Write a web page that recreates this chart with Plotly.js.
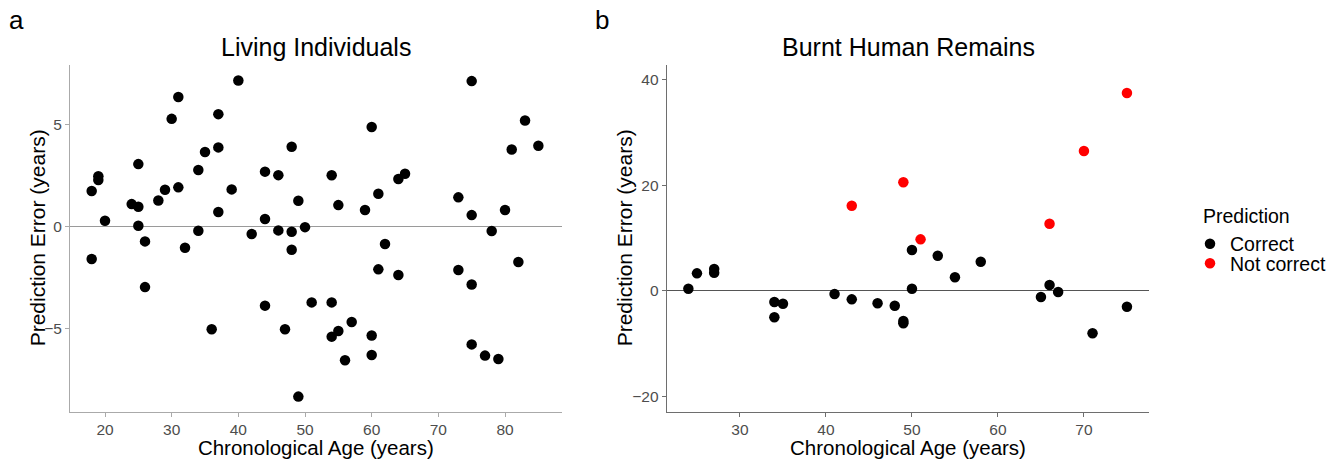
<!DOCTYPE html>
<html>
<head>
<meta charset="utf-8">
<script src="https://cdn.plot.ly/plotly-3.0.1.min.js"></script>
<style>
  html, body { margin: 0; padding: 0; background: #ffffff; }
  #chart { width: 1339px; height: 459px; }
</style>
</head>
<body>
<div id="chart"></div>
<script>
// Panel a: Living Individuals
const livingAge = [18,18,19,19,20,24,25,25,25,26,26,28,29,30,31,31,32,34,34,35,36,37,37,37,39,40,42,44,44,44,46,46,47,48,48,48,49,49,50,51,
  75,83,85,81,60,54,64,65,61,55,59,73,75,80,78,62,61,64,73,75,82,54,57,55,54,60,60,56,75,77,79];
const livingError = [1.75,-1.58,2.48,2.29,0.29,1.11,0.98,3.07,0.05,-0.72,-2.96,1.29,1.81,5.29,6.36,1.93,-1.03,2.78,-0.2,3.66,-5.03,5.52,3.89,0.72,1.83,7.17,-0.36,2.70,0.38,-3.87,2.53,-0.18,-5.03,3.92,-0.25,-1.13,1.27,-8.33,-0.02,-3.71,
  7.14,5.21,3.97,3.79,4.89,2.52,2.34,2.60,1.62,1.06,0.82,1.44,0.57,0.82,-0.21,-0.85,-2.09,-2.37,-2.12,-2.83,-1.73,-3.71,-4.67,-5.11,-5.39,-5.33,-6.29,-6.55,-5.77,-6.32,-6.49];

// Panel b: Burnt Human Remains
const burntCorrectAge = [24,25,27,27,34,34,35,41,43,46,48,49,49,50,50,53,55,58,65,66,67,71,75];
const burntCorrectError = [0.44,3.34,4.16,3.47,-2.08,-4.98,-2.40,-0.57,-1.58,-2.33,-2.78,-5.68,-6.12,7.76,0.44,6.69,2.59,5.55,-1.14,1.14,-0.19,-8.01,-2.97];
const burntWrongAge = [43,49,51,66,70,75];
const burntWrongError = [16.15,20.6,9.78,12.74,26.5,37.5];

const ticksA_x = [20,30,40,50,60,70,80];
const ticksA_y = [-5,0,5];
const ticksB_x = [30,40,50,60,70];
const ticksB_y = [-20,0,20,40];

const panelTitles = ["Living Individuals", "Burnt Human Remains"];
const panelLetters = ["a", "b"];
const legendTitle = "Prediction";
const legendLabels = ["Correct", "Not correct"];
const xLabel = "Chronological Age (years)";
const yLabel = "Prediction Error (years)";

const FONT = "Liberation Sans, Arial, Helvetica, sans-serif";
const W = 1339, H = 459;
const px = v => v / W;
const py = v => (H - v) / H;

const markerSize = 10.5;

const traces = [
  { x: livingAge, y: livingError, type: "scatter", mode: "markers",
    xaxis: "x", yaxis: "y", showlegend: false,
    marker: { color: "#000000", size: markerSize } },
  { x: burntCorrectAge, y: burntCorrectError, type: "scatter", mode: "markers",
    xaxis: "x2", yaxis: "y2", name: legendLabels[0], legend: "legend",
    marker: { color: "#000000", size: markerSize } },
  { x: burntWrongAge, y: burntWrongError, type: "scatter", mode: "markers",
    xaxis: "x2", yaxis: "y2", name: legendLabels[1], legend: "legend2",
    marker: { color: "#FF0000", size: markerSize } }
];

function axisCommon(lineColor) {
  return {
    showgrid: false, showline: true, linecolor: lineColor, linewidth: 1,
    ticks: "outside", ticklen: 4, tickwidth: 1, tickcolor: lineColor,
    tickfont: { family: FONT, size: 15.5, color: "#4D4D4D" },
    zeroline: false, fixedrange: true
  };
}

function legendAt(yCenter) {
  return {
    x: px(1190), xanchor: "left", y: py(yCenter), yanchor: "middle",
    font: { family: FONT, size: 19.5, color: "#000" },
    itemwidth: 30, bgcolor: "rgba(0,0,0,0)", borderwidth: 0
  };
}

const yDomain = [1 - 411.7 / H, 1 - 65 / H];
const yMid = (65 + 411.7) / 2;

const layout = {
  width: W, height: H,
  margin: { l: 0, r: 0, t: 0, b: 0 },
  paper_bgcolor: "#ffffff", plot_bgcolor: "#ffffff",
  font: { family: FONT, color: "#000000" },
  showlegend: true,
  legend: legendAt(244),
  legend2: legendAt(263.5),
  xaxis: Object.assign(axisCommon("#AAAAAA"), {
    domain: [px(70), px(561.7)], range: [14.75, 88.5], tickvals: ticksA_x,
    anchor: "y",
    title: { text: xLabel, font: { family: FONT, size: 20.5, color: "#000" }, standoff: 3 }
  }),
  yaxis: Object.assign(axisCommon("#AAAAAA"), {
    domain: yDomain, range: [-9.07, 7.93], tickvals: ticksA_y,
    anchor: "x",
    zeroline: true, zerolinecolor: "#9A9A9A", zerolinewidth: 1
  }),
  xaxis2: Object.assign(axisCommon("#6E6E6E"), {
    domain: [px(666.7), px(1149.3)], range: [21.48, 77.6], tickvals: ticksB_x,
    anchor: "y2",
    title: { text: xLabel, font: { family: FONT, size: 20.5, color: "#000" }, standoff: 3 }
  }),
  yaxis2: Object.assign(axisCommon("#6E6E6E"), {
    domain: yDomain, range: [-22.86, 42.8], tickvals: ticksB_y,
    anchor: "x2",
    zeroline: true, zerolinecolor: "#555555", zerolinewidth: 1
  }),
  annotations: [
    { text: panelTitles[0], xref: "paper", yref: "paper", x: (px(70) + px(561.7)) / 2, y: py(47),
      xanchor: "center", yanchor: "middle", showarrow: false,
      font: { family: FONT, size: 25, color: "#000" } },
    { text: panelTitles[1], xref: "paper", yref: "paper", x: (px(666.7) + px(1149.3)) / 2, y: py(47),
      xanchor: "center", yanchor: "middle", showarrow: false,
      font: { family: FONT, size: 25, color: "#000" } },
    { text: panelLetters[0], xref: "paper", yref: "paper", x: px(7), y: py(20),
      xanchor: "left", yanchor: "middle", showarrow: false,
      font: { family: FONT, size: 26, color: "#000" } },
    { text: panelLetters[1], xref: "paper", yref: "paper", x: px(593), y: py(20),
      xanchor: "left", yanchor: "middle", showarrow: false,
      font: { family: FONT, size: 26, color: "#000" } },
    { text: yLabel, xref: "paper", yref: "paper", x: px(37), y: py(yMid), textangle: -90,
      xanchor: "center", yanchor: "middle", showarrow: false,
      font: { family: FONT, size: 21, color: "#000" } },
    { text: yLabel, xref: "paper", yref: "paper", x: px(624), y: py(yMid), textangle: -90,
      xanchor: "center", yanchor: "middle", showarrow: false,
      font: { family: FONT, size: 21, color: "#000" } },
    { text: legendTitle, xref: "paper", yref: "paper", x: px(1201), y: py(216),
      xanchor: "left", yanchor: "middle", showarrow: false,
      font: { family: FONT, size: 19.5, color: "#000" } }
  ]
};

Plotly.newPlot("chart", traces, layout, { displayModeBar: false, staticPlot: true });
</script>
</body>
</html>
